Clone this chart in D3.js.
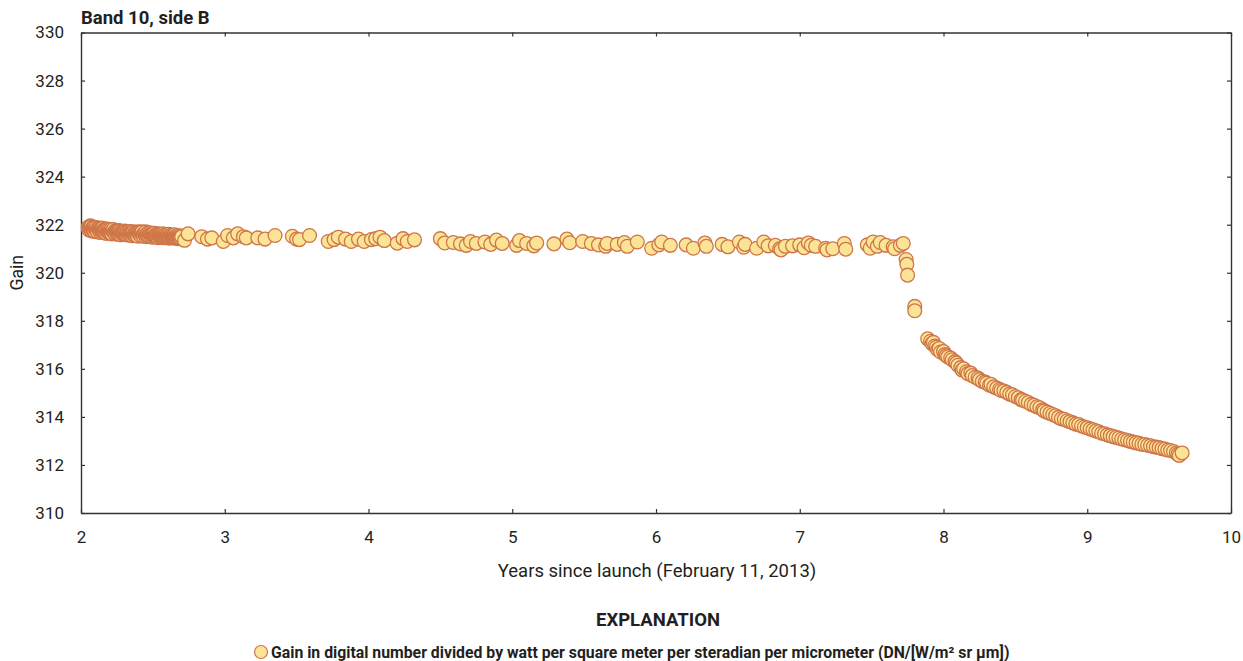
<!DOCTYPE html>
<html>
<head>
<meta charset="utf-8">
<script src="https://cdn.jsdelivr.net/npm/d3@7"></script>
<style>
  body { margin: 0; background: #fff; }
  svg text { font-family: "Roboto", "Liberation Sans", sans-serif; fill: #231f20; }
</style>
</head>
<body>
<div id="chart"></div>
<script>
// ===== Data =====
const xTicks = [2, 3, 4, 5, 6, 7, 8, 9, 10];
const yTicks = [310, 312, 314, 316, 318, 320, 322, 324, 326, 328, 330];

// dense early part, [years, gain]
const earlyPts = [
  [2.05, 321.90], [2.06, 321.85], [2.07, 321.92], [2.08, 321.80], [2.09, 321.88],
  [2.10, 321.82], [2.11, 321.78], [2.12, 321.86], [2.13, 321.80], [2.14, 321.74],
  [2.15, 321.84], [2.16, 321.76], [2.17, 321.82], [2.18, 321.72], [2.19, 321.78],
  [2.20, 321.70], [2.21, 321.80], [2.22, 321.74], [2.23, 321.68], [2.24, 321.76],
  [2.25, 321.70], [2.26, 321.64], [2.27, 321.74], [2.28, 321.66], [2.29, 321.72],
  [2.30, 321.62], [2.31, 321.70], [2.32, 321.66], [2.33, 321.60], [2.34, 321.72],
  [2.35, 321.64], [2.36, 321.68], [2.37, 321.58], [2.38, 321.66], [2.39, 321.62],
  [2.40, 321.70], [2.41, 321.60], [2.42, 321.66], [2.43, 321.58], [2.44, 321.64],
  [2.45, 321.70], [2.46, 321.60], [2.47, 321.56], [2.48, 321.66], [2.49, 321.60],
  [2.50, 321.54], [2.51, 321.64], [2.52, 321.58], [2.53, 321.62], [2.54, 321.54],
  [2.55, 321.60], [2.56, 321.56], [2.57, 321.62], [2.58, 321.52], [2.59, 321.58],
  [2.60, 321.54], [2.61, 321.60], [2.62, 321.50], [2.63, 321.56], [2.64, 321.52],
  [2.65, 321.58], [2.66, 321.50], [2.67, 321.55], [2.68, 321.48], [2.69, 321.54],
  [2.70, 321.50]
];

// in-between acquisitions over the same dense span
const earlyPts2 = [
  [2.055, 321.78], [2.065, 321.95], [2.075, 321.74], [2.085, 321.90], [2.095, 321.72],
  [2.105, 321.88], [2.115, 321.70], [2.125, 321.84], [2.135, 321.68], [2.145, 321.86],
  [2.155, 321.70], [2.165, 321.80], [2.175, 321.64], [2.185, 321.82], [2.195, 321.66],
  [2.205, 321.78], [2.215, 321.62], [2.225, 321.80], [2.235, 321.64], [2.245, 321.74],
  [2.255, 321.60], [2.265, 321.76], [2.275, 321.58], [2.285, 321.72], [2.295, 321.60],
  [2.305, 321.74], [2.315, 321.58], [2.325, 321.70], [2.335, 321.56], [2.345, 321.66],
  [2.355, 321.54], [2.365, 321.70], [2.375, 321.56], [2.385, 321.68], [2.395, 321.52],
  [2.405, 321.64], [2.415, 321.54], [2.425, 321.70], [2.435, 321.52], [2.445, 321.62],
  [2.455, 321.50], [2.465, 321.66], [2.475, 321.52], [2.485, 321.60], [2.495, 321.48],
  [2.505, 321.62], [2.515, 321.50], [2.525, 321.56], [2.535, 321.46], [2.545, 321.60],
  [2.555, 321.48], [2.565, 321.54], [2.575, 321.46], [2.585, 321.58], [2.595, 321.46],
  [2.605, 321.52], [2.615, 321.44], [2.625, 321.56], [2.635, 321.46], [2.645, 321.50],
  [2.655, 321.44], [2.665, 321.52], [2.675, 321.42], [2.685, 321.50], [2.695, 321.44]
];

// a third pass of dense early acquisitions
const earlyPts3 = [
  [2.0525, 321.84], [2.0625, 321.88], [2.0725, 321.80], [2.0825, 321.86], [2.0925, 321.78],
  [2.1025, 321.84], [2.1125, 321.76], [2.1225, 321.80], [2.1325, 321.74], [2.1425, 321.80],
  [2.1525, 321.76], [2.1625, 321.72], [2.1725, 321.78], [2.1825, 321.76], [2.1925, 321.70],
  [2.2025, 321.74], [2.2125, 321.70], [2.2225, 321.76], [2.2325, 321.66], [2.2425, 321.70],
  [2.2525, 321.66], [2.2625, 321.70], [2.2725, 321.64], [2.2825, 321.68], [2.2925, 321.66],
  [2.3025, 321.68], [2.3125, 321.62], [2.3225, 321.64], [2.3325, 321.66], [2.3425, 321.60],
  [2.3525, 321.66], [2.3625, 321.60], [2.3725, 321.64], [2.3825, 321.60], [2.3925, 321.58],
  [2.4025, 321.64], [2.4125, 321.58], [2.4225, 321.62], [2.4325, 321.56], [2.4425, 321.60],
  [2.4525, 321.58], [2.4625, 321.54], [2.4725, 321.60], [2.4825, 321.56], [2.4925, 321.54],
  [2.5025, 321.58], [2.5125, 321.54], [2.5225, 321.50], [2.5325, 321.56], [2.5425, 321.52],
  [2.5525, 321.54], [2.5625, 321.50], [2.5725, 321.54], [2.5825, 321.50], [2.5925, 321.52],
  [2.6025, 321.48], [2.6125, 321.52], [2.6225, 321.48], [2.6325, 321.50], [2.6425, 321.46],
  [2.6525, 321.50], [2.6625, 321.46], [2.6725, 321.48], [2.6825, 321.44], [2.6925, 321.48]
];

// sparse plateau
const plateauPts = [
  [2.72, 321.35], [2.745, 321.62], [2.84, 321.50], [2.88, 321.40], [2.91, 321.45],
  [2.99, 321.30], [3.02, 321.55], [3.06, 321.45], [3.09, 321.62], [3.13, 321.50],
  [3.15, 321.45], [3.23, 321.45], [3.28, 321.40], [3.35, 321.55], [3.47, 321.52],
  [3.50, 321.40], [3.52, 321.38], [3.59, 321.55], [3.72, 321.30], [3.76, 321.38],
  [3.79, 321.48], [3.84, 321.40], [3.88, 321.30], [3.93, 321.40], [3.97, 321.30],
  [4.02, 321.38], [4.05, 321.42], [4.08, 321.48], [4.11, 321.34], [4.20, 321.23],
  [4.24, 321.42], [4.27, 321.30], [4.32, 321.37], [4.50, 321.42], [4.53, 321.24],
  [4.59, 321.26], [4.64, 321.20], [4.68, 321.14], [4.71, 321.30], [4.75, 321.22],
  [4.81, 321.28], [4.85, 321.18], [4.89, 321.36], [4.93, 321.22], [5.03, 321.14],
  [5.05, 321.34], [5.10, 321.22], [5.15, 321.12], [5.17, 321.24], [5.29, 321.20],
  [5.38, 321.40], [5.40, 321.25], [5.49, 321.30], [5.55, 321.22], [5.60, 321.16],
  [5.65, 321.10], [5.66, 321.22], [5.73, 321.18], [5.78, 321.26], [5.80, 321.10],
  [5.87, 321.28], [5.97, 321.02], [6.02, 321.16], [6.04, 321.28], [6.10, 321.14],
  [6.21, 321.16], [6.26, 321.02], [6.34, 321.24], [6.35, 321.10], [6.46, 321.18],
  [6.50, 321.08], [6.58, 321.28], [6.61, 321.06], [6.62, 321.18], [6.70, 321.02],
  [6.75, 321.28], [6.78, 321.12], [6.83, 321.14], [6.86, 321.00], [6.87, 320.95],
  [6.90, 321.10], [6.95, 321.12], [7.00, 321.16], [7.03, 321.04], [7.06, 321.24],
  [7.08, 321.14], [7.11, 321.10], [7.18, 321.02], [7.19, 320.95], [7.23, 321.00],
  [7.31, 321.22], [7.32, 320.98], [7.47, 321.16], [7.49, 321.02], [7.51, 321.28],
  [7.54, 321.10], [7.56, 321.26], [7.60, 321.14], [7.65, 321.08], [7.66, 321.00],
  [7.70, 321.14], [7.72, 321.22]
];

// drop
const dropPts = [
  [7.74, 320.55], [7.745, 320.35], [7.75, 319.90], [7.80, 318.60], [7.80, 318.42]
];

// tail
const tailPts = [
  [7.89, 317.25], [7.91, 317.15], [7.92, 317.05], [7.93, 317.10], [7.94, 316.95],
  [7.95, 316.90], [7.96, 316.80], [7.97, 316.85], [7.98, 316.70], [8.00, 316.72],
  [8.01, 316.60], [8.02, 316.55], [8.03, 316.50], [8.05, 316.45], [8.06, 316.38],
  [8.08, 316.30], [8.09, 316.24], [8.10, 316.15], [8.12, 316.05], [8.13, 315.95],
  [8.14, 316.00], [8.16, 315.88], [8.17, 315.80], [8.19, 315.82], [8.20, 315.72],
  [8.22, 315.65], [8.24, 315.62], [8.25, 315.55], [8.27, 315.48], [8.29, 315.45],
  [8.30, 315.40], [8.32, 315.32], [8.33, 315.36], [8.35, 315.25], [8.37, 315.20],
  [8.39, 315.15], [8.40, 315.10], [8.42, 315.08], [8.44, 315.02], [8.46, 314.95],
  [8.48, 314.92], [8.50, 314.85], [8.52, 314.80], [8.54, 314.72], [8.55, 314.70],
  [8.57, 314.65], [8.59, 314.60], [8.61, 314.52], [8.63, 314.48], [8.65, 314.42],
  [8.67, 314.38], [8.69, 314.30], [8.70, 314.25], [8.72, 314.20], [8.74, 314.15],
  [8.76, 314.10], [8.78, 314.05], [8.80, 313.98], [8.82, 313.92], [8.84, 313.90],
  [8.86, 313.84], [8.88, 313.80], [8.90, 313.75], [8.92, 313.70], [8.94, 313.68],
  [8.96, 313.62], [8.98, 313.58], [9.00, 313.55], [9.02, 313.50], [9.04, 313.46],
  [9.06, 313.42], [9.08, 313.38], [9.10, 313.32], [9.12, 313.30], [9.14, 313.25],
  [9.16, 313.22], [9.18, 313.18], [9.20, 313.15], [9.22, 313.12], [9.24, 313.08],
  [9.26, 313.05], [9.28, 313.02], [9.30, 312.98], [9.32, 312.95], [9.34, 312.92],
  [9.36, 312.90], [9.38, 312.86], [9.40, 312.85], [9.42, 312.82], [9.44, 312.80],
  [9.46, 312.76], [9.48, 312.74], [9.50, 312.72], [9.52, 312.68], [9.54, 312.66],
  [9.56, 312.62], [9.58, 312.60], [9.60, 312.56], [9.62, 312.50], [9.63, 312.44],
  [9.64, 312.40], [9.66, 312.50]
];

const titleText = "Band 10, side B";
const xLabel = "Years since launch (February 11, 2013)";
const yLabel = "Gain";
const legendTitle = "EXPLANATION";
const legendItem = "Gain in digital number divided by watt per square meter per steradian per micrometer (DN/[W/m\u00B2 sr \u00B5m])";

// ===== Layout =====
const W = 1243, H = 661;
const M = { top: 32.5, right: 12, bottom: 148, left: 81 };
const innerW = W - M.left - M.right;
const innerH = H - M.top - M.bottom;

const FILL = "#fbe496";
const STROKE = "#cf7549";
const AXIS = "#333";

const svg = d3.select("#chart").append("svg")
  .attr("width", W).attr("height", H);

const g = svg.append("g").attr("transform", `translate(${M.left},${M.top})`);

const x = d3.scaleLinear().domain([2, 10]).range([0, innerW]);
const y = d3.scaleLinear().domain([310, 330]).range([innerH, 0]);

// ===== Axes (ticks inward, mirrored) =====
const tickFmt = d => d;
const axB = g.append("g").attr("transform", `translate(0,${innerH})`)
  .call(d3.axisBottom(x).tickValues(xTicks).tickSizeInner(-4).tickSizeOuter(0).tickPadding(18).tickFormat(tickFmt));
const axT = g.append("g")
  .call(d3.axisTop(x).tickValues(xTicks).tickSizeInner(-4).tickSizeOuter(0).tickFormat(""));
const axL = g.append("g")
  .call(d3.axisLeft(y).tickValues(yTicks).tickSizeInner(-4).tickSizeOuter(0).tickPadding(17).tickFormat(tickFmt));
const axR = g.append("g").attr("transform", `translate(${innerW},0)`)
  .call(d3.axisRight(y).tickValues(yTicks).tickSizeInner(-4).tickSizeOuter(0).tickFormat(""));

[axB, axT, axL, axR].forEach(a => {
  a.select(".domain").attr("stroke", AXIS).attr("stroke-width", 1.4);
  a.selectAll(".tick line").attr("stroke", AXIS).attr("stroke-width", 1.2);
  a.selectAll("text").style("font-size", "17px").attr("fill", "#231f20");
});

// ===== Points =====
// draw in time order so the dense early span overlaps like the original
const allPts = earlyPts.concat(earlyPts2, earlyPts3)
  .sort((a, b) => d3.ascending(a[0], b[0]))
  .concat(plateauPts, dropPts, tailPts);

g.append("g").selectAll("circle")
  .data(allPts)
  .enter()
  .append("circle")
  .attr("cx", d => x(d[0]))
  .attr("cy", d => y(d[1]))
  .attr("r", 6.9)
  .attr("fill", FILL)
  .attr("stroke", STROKE)
  .attr("stroke-width", 1.3);

// ===== Labels =====
svg.append("text")
  .attr("x", M.left).attr("y", 24)
  .style("font-size", "18.5px").style("font-weight", "bold")
  .text(titleText);

svg.append("text")
  .attr("transform", `translate(23,${M.top + innerH / 2}) rotate(-90)`)
  .attr("text-anchor", "middle")
  .style("font-size", "17.5px")
  .text(yLabel);

svg.append("text")
  .attr("x", M.left + innerW / 2 + 1).attr("y", 577)
  .attr("text-anchor", "middle")
  .style("font-size", "18.5px")
  .text(xLabel);

// ===== Explanation =====
svg.append("text")
  .attr("x", M.left + innerW / 2 + 2).attr("y", 626)
  .attr("text-anchor", "middle")
  .style("font-size", "18.5px").style("font-weight", "bold")
  .text(legendTitle);

const leg = svg.append("g").attr("transform", "translate(261,652)");
leg.append("circle").attr("r", 6.5).attr("fill", FILL).attr("stroke", STROKE).attr("stroke-width", 1.2);
leg.append("text").attr("x", 10).attr("y", 5.5)
  .style("font-size", "15.8px").style("font-weight", "bold")
  .text(legendItem);
</script>
</body>
</html>
